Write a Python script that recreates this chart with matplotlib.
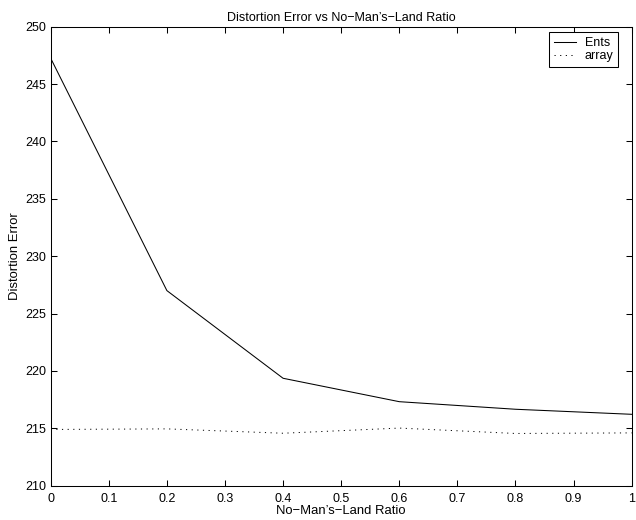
import matplotlib
matplotlib.use('Agg')
import matplotlib.pyplot as plt

plt.rcParams['font.family'] = ['Liberation Sans', 'DejaVu Sans']
plt.rcParams['font.size'] = 9

ratio = [0, 0.2, 0.4, 0.6, 0.8, 1.0]
ents = [247.25, 227.0, 219.36, 217.32, 216.66, 216.22]
array = [214.9, 214.95, 214.57, 215.02, 214.55, 214.6]

fig = plt.figure(figsize=(6.36, 5.2), dpi=100)
ax = fig.add_axes([0.0797, 0.066, 0.9135, 0.8827])

ax.plot(ratio, ents, color='black', linewidth=0.75, label='Ents')
ax.plot(ratio, array, color='black', linewidth=0.7, linestyle=(0, (1.2, 4.6)), label='array')

ax.set_xlim(0, 1)
ax.set_ylim(210, 250)
ax.set_xticks([0, 0.1, 0.2, 0.3, 0.4, 0.5, 0.6, 0.7, 0.8, 0.9, 1])
ax.set_xticklabels(['0', '0.1', '0.2', '0.3', '0.4', '0.5', '0.6', '0.7', '0.8', '0.9', '1'])
ax.set_yticks(range(210, 251, 5))
ax.tick_params(direction='in', top=True, right=True, length=4, width=0.75)
ax.tick_params(axis='x', pad=5)
ax.tick_params(axis='y', pad=3.4)
for s in ax.spines.values():
    s.set_linewidth(0.75)

ax.set_xlabel('No\u2212Man\u2019s\u2212Land Ratio', fontsize=9.4, labelpad=0.5)
ax.set_ylabel('Distortion Error', fontsize=9.4, labelpad=2.5)
ax.set_title('Distortion Error vs No\u2212Man\u2019s\u2212Land Ratio', fontsize=9, pad=4.3)

leg = ax.legend(loc='upper right', bbox_to_anchor=(0.977, 0.988), borderaxespad=0,
                fancybox=False, edgecolor='black', framealpha=1,
                handlelength=1.76, borderpad=0.38, labelspacing=0.12,
                handletextpad=0.72)
leg.get_frame().set_linewidth(0.75)

fig.savefig('out.png', dpi=100)
